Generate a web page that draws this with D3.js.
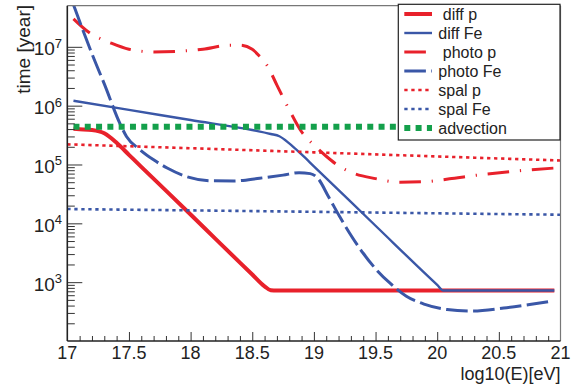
<!DOCTYPE html>
<html>
<head>
<meta charset="utf-8">
<script src="https://cdn.jsdelivr.net/npm/d3@7"></script>
<style>
  html, body { margin: 0; padding: 0; background: #fff; }
  svg { display: block; font-family: "Liberation Sans", Arial, Helvetica, sans-serif; }
  text { white-space: pre; }
</style>
</head>
<body>
<svg id="chart" width="580" height="390"></svg>
<script>
// Timescales (years) vs log10(E/eV), one small table per process.
const diffP = [[17.05, 4.04e5], [17.1, 3.98e5], [17.2, 3.85e5], [17.3, 3.39e5], [17.4, 2.34e5],
  [17.5, 1.46e5], [17.6, 9.1e4], [17.8, 3.6e4], [18.0, 1.41e4], [18.2, 5.5e3], [18.4, 2.15e3],
  [18.5, 1.35e3], [18.6, 8.5e2], [18.65, 7.3e2], [18.7, 7.2e2], [19.5, 7.2e2], [20.95, 7.2e2]];
const diffFe = [[17.05, 1.21e6], [17.5, 8.5e5], [18.0, 5.7e5], [18.5, 3.85e5], [18.65, 3.3e5],
  [18.72, 3.02e5], [18.8, 2.29e5], [18.9, 1.48e5], [19.0, 9.33e4], [19.5, 9.1e3], [20.0, 9.0e2],
  [20.05, 7.2e2], [20.95, 7.2e2]];
const photoP = [[17.05, 2.99e7], [17.18, 1.73e7], [17.35, 1.17e7], [17.5, 9.1e6], [17.7, 8.2e6],
  [17.9, 8.4e6], [18.1, 9.1e6], [18.3, 1.06e7], [18.4, 1.07e7], [18.5, 9.1e6], [18.56, 6.9e6],
  [18.62, 4.84e6], [18.7, 2.24e6], [18.8, 8.5e5], [18.9, 3.6e5], [19.0, 2.14e5], [19.1, 1.38e5],
  [19.2, 9.5e4], [19.3, 7.4e4], [19.5, 5.75e4], [19.7, 5.0e4], [19.9, 5.1e4], [20.1, 5.7e4],
  [20.3, 6.5e4], [20.6, 7.6e4], [20.95, 8.7e4]];
const photoFe = [[17.05, 5.2e7], [17.2, 7.6e6], [17.3, 2.34e6], [17.43, 4.8e5], [17.48, 3.0e5],
  [17.59, 1.78e5], [17.7, 1.2e5], [17.81, 8.7e4], [17.97, 6.2e4], [18.16, 5.3e4], [18.35, 5.25e4],
  [18.56, 5.85e4], [18.75, 6.6e4], [18.88, 7.25e4], [18.97, 7.0e4], [19.03, 5.9e4], [19.12, 2.8e4],
  [19.21, 1.29e4], [19.29, 6.8e3], [19.4, 3.1e3], [19.51, 1.6e3], [19.62, 9.5e2], [19.75, 5.75e2],
  [19.9, 4.2e2], [20.08, 3.43e2], [20.29, 3.24e2], [20.54, 3.63e2], [20.75, 4.17e2], [20.92, 4.74e2]];
const spalP = [[17, 2.2e5], [18, 1.89e5], [19, 1.61e5], [20, 1.37e5], [21, 1.17e5]];
const spalFe = [[17, 1.75e4], [18, 1.66e4], [19, 1.57e4], [20, 1.48e4], [21, 1.40e4]];
const advection = [[17.05, 4.4e5], [21, 4.4e5]];

const legendLabels = [" diff p", "diff Fe", " photo p", "photo Fe", "spal p", "spal Fe", "advection"];
const xTickLabels = ["17", "17.5", "18", "18.5", "19", "19.5", "20", "20.5", "21"];
const yTickExponents = [3, 4, 5, 6, 7];

const RED = "#e8212b", BLUE = "#3a57a7", GREEN = "#14a04b";
const series = [
  { data: diffP, color: RED, width: 4, dash: null },
  { data: diffFe, color: BLUE, width: 2.4, dash: null },
  { data: photoP, color: RED, width: 3, dash: "21.6,10.8,1.2,10.8" },
  { data: photoFe, color: BLUE, width: 3, dash: "21.6,5.4" },
  { data: spalP, color: RED, width: 2.6, dash: "3.3,3.7" },
  { data: spalFe, color: BLUE, width: 2.6, dash: "3.3,3.7" },
  { data: advection, color: GREEN, width: 6, dash: "6,5.3" }
];

const L = 67.3, R = 560.5, T = 5.7, B = 341;
const svg = d3.select("#chart");
const x = d3.scaleLinear().domain([17, 21]).range([L, R]);
const y = d3.scaleLog().domain([100, 5e7]).range([B, T]);

svg.append("defs").append("clipPath").attr("id", "plotclip")
  .append("rect").attr("x", L).attr("y", T).attr("width", R - L).attr("height", B - T);

// curves
const line = d3.line().x(d => x(d[0])).y(d => y(d[1])).curve(d3.curveMonotoneX);
const plot = svg.append("g").attr("clip-path", "url(#plotclip)");
series.forEach(s => {
  plot.append("path").datum(s.data)
    .attr("d", line)
    .attr("fill", "none")
    .attr("stroke", s.color)
    .attr("stroke-width", s.width)
    .attr("stroke-dasharray", s.dash)
    .attr("stroke-linejoin", "round");
});

// axes: ticks drawn inward
const xMajor = xTickLabels.map(Number);
const xMinor = d3.range(17, 21.0001, 0.1).map(v => +v.toFixed(1)).filter(v => !xMajor.includes(v));
const styleAxis = g => {
  g.select(".domain").remove();
  g.selectAll(".tick line").attr("stroke", "#333").attr("stroke-width", 1);
};
svg.append("g").attr("transform", `translate(0,${B})`)
  .call(d3.axisBottom(x).tickValues(xMajor.slice(1, -1)).tickSize(-9).tickFormat(""))
  .call(styleAxis);
svg.append("g").attr("transform", `translate(0,${B})`)
  .call(d3.axisBottom(x).tickValues(xMinor).tickSize(-5).tickFormat(""))
  .call(styleAxis);

const yMajor = yTickExponents.map(e => Math.pow(10, e));
const yMinor = [];
[2, 3, 4, 5, 6].forEach(e => d3.range(2, 10).forEach(m => {
  const v = m * Math.pow(10, e);
  if (v < 5e7) yMinor.push(v);
}));
svg.append("g").attr("transform", `translate(${L},0)`)
  .call(d3.axisLeft(y).tickValues(yMajor).tickSize(-15).tickFormat(""))
  .call(styleAxis);
svg.append("g").attr("transform", `translate(${L},0)`)
  .call(d3.axisLeft(y).tickValues(yMinor).tickSize(-7.5).tickFormat(""))
  .call(styleAxis);

// frame
svg.append("line").attr("x1", L).attr("x2", R).attr("y1", T).attr("y2", T).attr("stroke", "#777").attr("stroke-width", 1.2);
svg.append("line").attr("x1", R).attr("x2", R).attr("y1", T).attr("y2", B).attr("stroke", "#777").attr("stroke-width", 1.2);
svg.append("line").attr("x1", L).attr("x2", L).attr("y1", T).attr("y2", B).attr("stroke", "#222").attr("stroke-width", 1.6);
svg.append("line").attr("x1", L).attr("x2", R).attr("y1", B).attr("y2", B).attr("stroke", "#222").attr("stroke-width", 1.6);

// tick labels
svg.append("g").selectAll("text").data(xTickLabels).join("text")
  .attr("x", d => x(+d)).attr("y", 359)
  .attr("text-anchor", "middle").attr("font-size", 18).attr("fill", "#222")
  .text(d => d);

const yl = svg.append("g").selectAll("text").data(yTickExponents).join("text")
  .attr("x", 62).attr("y", d => y(Math.pow(10, d)) + 8.5)
  .attr("text-anchor", "end").attr("fill", "#222");
yl.append("tspan").attr("font-size", 19).text("10");
yl.append("tspan").attr("font-size", 13).attr("dy", -7.5).text(d => d);

// axis titles
svg.append("text").attr("x", R).attr("y", 379.5).attr("text-anchor", "end")
  .attr("font-size", 18).attr("fill", "#222").text("log10(E)[eV]");
svg.append("text").attr("transform", "translate(29.5,5) rotate(-90)").attr("text-anchor", "end")
  .attr("font-size", 19).attr("fill", "#222").text("time [year]");

// legend
const lg = svg.append("g");
lg.append("rect").attr("x", 398.3).attr("y", 4.3).attr("width", 161.7).attr("height", 135.7)
  .attr("fill", "#fff").attr("stroke", "#222").attr("stroke-width", 1.2);
legendLabels.forEach((lab, i) => {
  const yy = 14 + i * 19;
  const s = series[i];
  lg.append("line").attr("x1", 404.3).attr("x2", 432).attr("y1", yy).attr("y2", yy)
    .attr("stroke", s.color).attr("stroke-width", s.width).attr("stroke-dasharray", s.dash);
  lg.append("text").attr("x", 438.3).attr("y", yy + 5.5).attr("font-size", 16).attr("fill", "#222").text(lab);
});
</script>
</body>
</html>
